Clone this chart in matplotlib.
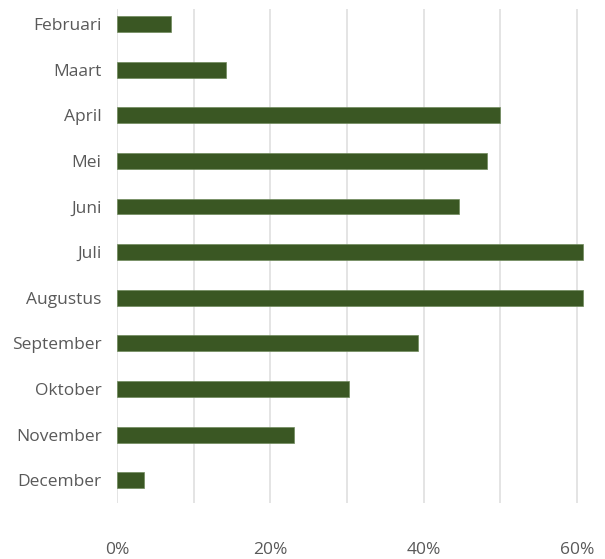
import matplotlib.pyplot as plt
from matplotlib.ticker import FuncFormatter

# Data
months = ["Februari", "Maart", "April", "Mei", "Juni", "Juli", "Augustus",
          "September", "Oktober", "November", "December"]
share = [0.070, 0.142, 0.500, 0.482, 0.446, 0.608, 0.608,
         0.392, 0.302, 0.231, 0.035]
xticks = [0.0, 0.2, 0.4, 0.6]

plt.rcParams["font.family"] = ["Open Sans", "DejaVu Sans"]

fig = plt.figure(figsize=(6.05, 5.59), dpi=100)
ax = fig.add_axes([117 / 605, 56 / 559, 480 / 605, 494 / 559])

ax.barh(range(len(months)), share, height=0.35, color="#3a5723",
        edgecolor="#6f8a5c", linewidth=0.5, zorder=3)

# Gridlines every 10%
for g in [i / 10 for i in range(7)]:
    ax.axvline(g, color="#dcdcdc", linewidth=1.1, zorder=1)

ax.set_xlim(0, 0.626)
ax.set_ylim(10.5, -0.33)
ax.set_yticks(range(len(months)))
ax.set_yticklabels(months)
ax.set_xticks(xticks)
ax.xaxis.set_major_formatter(FuncFormatter(lambda v, p: f"{v:.0%}"))

ax.tick_params(axis="both", length=0, labelsize=12.5, colors="#595959")
ax.tick_params(axis="y", pad=11)
ax.tick_params(axis="x", pad=28)
for s in ax.spines.values():
    s.set_visible(False)

fig.savefig("out.png", dpi=100)
